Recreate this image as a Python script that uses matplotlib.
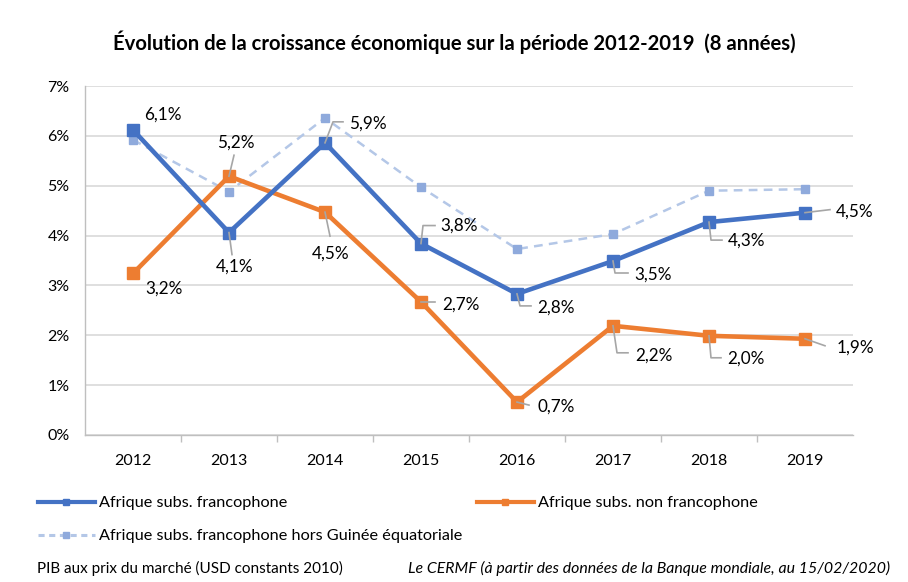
import matplotlib
matplotlib.use('Agg')
import matplotlib.pyplot as plt
import matplotlib.transforms as mtransforms
from matplotlib.lines import Line2D

plt.rcParams['font.family'] = ['Lato', 'DejaVu Sans']

years = [2012, 2013, 2014, 2015, 2016, 2017, 2018, 2019]
franco = [6.12, 4.06, 5.86, 3.84, 2.83, 3.49, 4.27, 4.46]
non_franco = [3.24, 5.19, 4.47, 2.67, 0.66, 2.19, 1.99, 1.93]
hors_ge = [5.92, 4.88, 6.36, 4.97, 3.73, 4.03, 4.90, 4.93]
names = ['Afrique subs. francophone', 'Afrique subs. non francophone',
         'Afrique subs. francophone hors Guinée équatoriale']

# label text offset (px) and leader line vertices (px), relative to the point
franco_lbl = [((11, 15), None),
              ((-13, -34), [(0, 0), (3, -22)]),
              ((24, 19), [(0, 0), (8, 21), (18, 21)]),
              ((19, 18), [(0, 0), (2, 18), (14, 18)]),
              ((20, -14), [(0, 0), (3, -12), (14, -12)]),
              ((21, -14), [(0, 0), (2, -12), (15, -12)]),
              ((19, -19), [(0, 0), (2, -18), (13, -18)]),
              ((31, 1), [(0, 0), (25, 3)])]
non_lbl = [((12, -15), None),
           ((-12, 34), [(0, 0), (5, 21)]),
           ((-13, -41), [(0, 0), (5, -24)]),
           ((21, -3), [(0, 0), (14, 0)]),
           ((21, -5), [(0, 0), (12, -3)]),
           ((22, -30), [(0, 0), (4, -27), (15, -27)]),
           ((18, -23), [(0, 0), (2, -22), (12, -22)]),
           ((32, -9), [(0, 0), (20, -7)])]

blue = '#4472C4'
orange = '#ED7D31'
light = '#B4C7E7'
light_mk = '#8FAADC'
grey = '#A6A6A6'

fig = plt.figure(figsize=(9.08, 5.82), dpi=100)
ax = fig.add_axes([85 / 908, 1 - 435 / 582, 768 / 908, 349 / 582])

ax.plot(years, franco, color=blue, lw=3.3, marker='s', ms=9, zorder=4)
ax.plot(years, non_franco, color=orange, lw=3.3, marker='s', ms=8, zorder=3)
ax.plot(years, hors_ge, color=light, lw=1.8, ls=(0, (3.5, 2.5)), marker='s', ms=6,
        mfc=light_mk, mec=light_mk, zorder=2)

ax.set_xlim(2011.5, 2019.5)
ax.set_ylim(0, 7)
ax.set_yticks(range(8))
ax.set_yticklabels([f'{v}%' for v in range(8)])
ax.set_xticks(years)
ax.set_xticks([y + 0.5 for y in years[:-1]], minor=True)
ax.tick_params(axis='x', which='major', length=0, pad=14, labelsize=11.5)
ax.tick_params(axis='x', which='minor', length=5, color='#BFBFBF', width=1)
ax.tick_params(axis='y', length=0, pad=11, labelsize=11.5)
ax.grid(axis='y', color='#D9D9D9', lw=1.2)
ax.set_axisbelow(True)
for s in ['top', 'right']:
    ax.spines[s].set_visible(False)
for s in ['left', 'bottom']:
    ax.spines[s].set_color('#BFBFBF')
    ax.spines[s].set_linewidth(1)

def label_series(vals, specs):
    for x, v, (off, leader) in zip(years, vals, specs):
        txt = f'{v:.1f}%'.replace('.', ',')
        ax.annotate(txt, (x, v), xytext=off, textcoords='offset pixels',
                    ha='left', va='center', fontsize=12.3, color='#000000', zorder=6)
        if leader:
            tr = mtransforms.IdentityTransform() + mtransforms.ScaledTranslation(x, v, ax.transData)
            xs = [p[0] for p in leader]
            ys = [p[1] for p in leader]
            ax.plot(xs, ys, color=grey, lw=1.2, transform=tr, zorder=5, clip_on=False)

label_series(franco, franco_lbl)
label_series(non_franco, non_lbl)

fig.text(0.5, 1 - 42 / 582, 'Évolution de la croissance économique sur la période 2012-2019  (8 années)',
         ha='center', va='center', fontsize=14.6, fontweight='bold')

h1 = Line2D([], [], color=blue, lw=3, marker='s', ms=5)
h2 = Line2D([], [], color=orange, lw=3, marker='s', ms=5)
h3 = Line2D([], [], color=light, lw=2.2, ls=(0, (2, 1.5)), marker='s', ms=5,
            mfc=light_mk, mec=light_mk)
leg_kw = dict(frameon=False, fontsize=11.7, handlelength=3.5, handletextpad=0.25,
              labelspacing=1.15, borderaxespad=0, borderpad=0)
fig.legend(handles=[h1, h3], labels=[names[0], names[2]], loc='upper left',
           bbox_to_anchor=(38 / 908, 1 - 496 / 582), **leg_kw)
fig.legend(handles=[h2], labels=[names[1]], loc='upper left',
           bbox_to_anchor=(477 / 908, 1 - 496 / 582), **leg_kw)

fig.text(37 / 908, 1 - 568 / 582, 'PIB aux prix du marché (USD constants 2010)',
         ha='left', va='center', fontsize=11)
fig.text(890 / 908, 1 - 568 / 582,
         'Le CERMF (à partir des données de la Banque mondiale, au 15/02/2020)',
         ha='right', va='center', fontsize=11.4, style='italic')

fig.savefig('out.png', dpi=100)
